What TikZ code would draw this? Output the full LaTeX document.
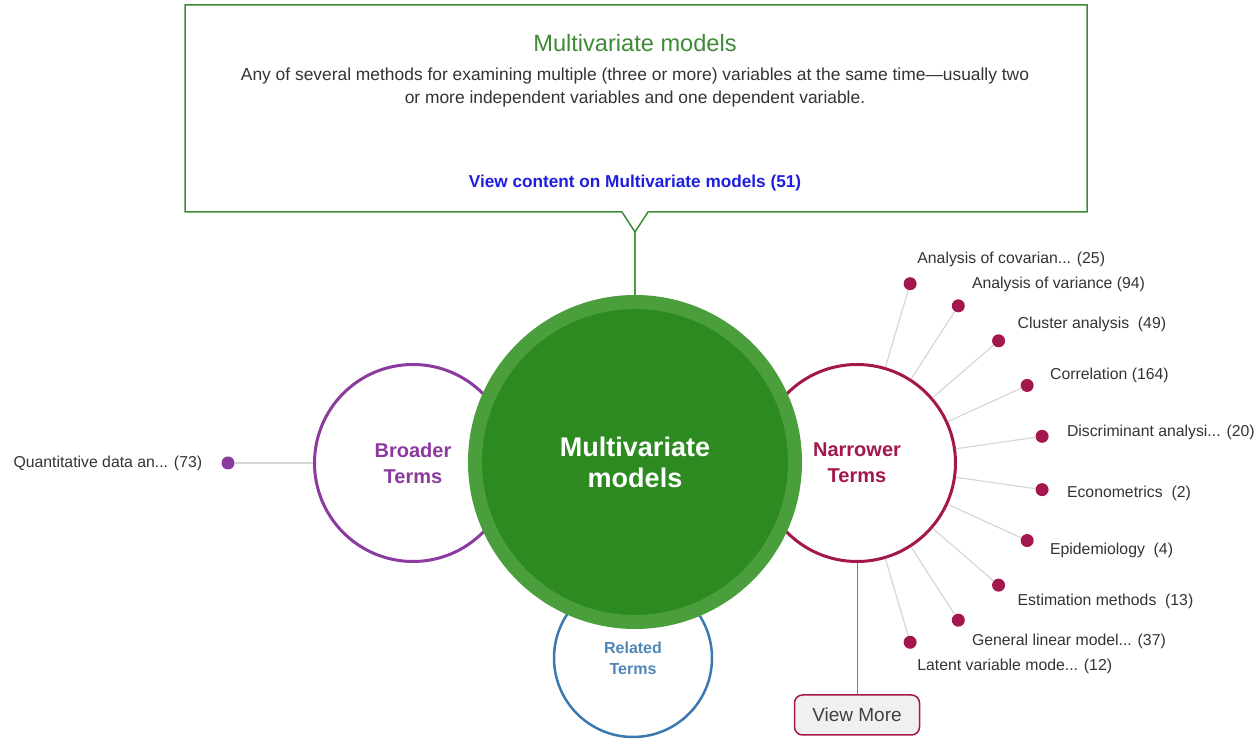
\documentclass[tikz,border=0pt]{standalone}
\usepackage{fontspec}
\setmainfont{Liberation Sans}
\usetikzlibrary{positioning}

\definecolor{boxgreen}{HTML}{3F8A35}
\definecolor{ringgreen}{HTML}{4B9E3C}
\definecolor{coregreen}{HTML}{2D8A20}
\definecolor{broadpurple}{HTML}{8B3A9E}
\definecolor{narrowred}{HTML}{A3174C}
\definecolor{relblue}{HTML}{3B78B0}
\definecolor{linkblue}{HTML}{1E1EE0}
\definecolor{spokegray}{HTML}{D6D6D6}

\begin{document}
\begin{tikzpicture}[x=1pt, y=1pt,
    term/.style={circle, draw, line width=3pt, fill=white, minimum size=197pt, align=center, font=\fontsize{20}{26}\selectfont\bfseries},
    dot/.style={circle, inner sep=0pt, minimum size=13pt},
    lbl/.style={inner sep=0pt, text=black!80, font=\fontsize{15.8}{18}\selectfont},
    spoke/.style={spokegray, line width=1.2pt}]
    \useasboundingbox (0,0) rectangle (1256,741);

    \coordinate (tip) at (635,509);
    \draw[boxgreen, line width=1.5pt, fill=white] (185,736) -- (1087,736) -- (1087,529) -- (648,529) -- (tip) -- (622,529) -- (185,529) -- cycle;
    \node[text=boxgreen, font=\fontsize{23.6}{28}\selectfont] (title) at (635,698) {Multivariate models};
    \node[align=center, text=black!80, font=\fontsize{17.4}{23}\selectfont] (desc) at (635,653) {Any of several methods for examining multiple (three or more) variables at the same time---usually two\\or more independent variables and one dependent variable.};
    \node[text=linkblue, font=\fontsize{17.2}{20}\selectfont\bfseries] (link) at (635,558) {View content on Multivariate models (51)};

    \node[term, draw=broadpurple, text=broadpurple] (bt) at (413,278) {Broader\\Terms};
    \node[term, draw=narrowred, text=narrowred] (nt) at (857,278) {Narrower\\Terms};
    \node[term, draw=relblue, text=relblue!90, line width=2.5pt, minimum size=158pt, font=\fontsize{16}{21}\selectfont\bfseries] (rt) at (633,83) {Related\\Terms};
    \node[circle, draw=ringgreen, fill=coregreen, line width=14pt, minimum size=320pt, align=center, text=white, font=\fontsize{27}{31}\selectfont\bfseries] (mm) at (635,279) {Multivariate\\models};

    \node[dot, fill=broadpurple] (qd) at (228,278) {};
    \node[lbl, left=19pt of qd] (ql) {Quantitative data an... (73)};

    \node[dot, fill=narrowred] (d1) at ([shift={(73.5:187)}]nt.center) {};
    \node[dot, fill=narrowred] (d2) at ([shift={(57.2:187)}]nt.center) {};
    \node[dot, fill=narrowred] (d3) at ([shift={(40.8:187)}]nt.center) {};
    \node[dot, fill=narrowred] (d4) at ([shift={(24.5:187)}]nt.center) {};
    \node[dot, fill=narrowred] (d5) at ([shift={(8.2:187)}]nt.center) {};
    \node[dot, fill=narrowred] (d6) at ([shift={(-8.2:187)}]nt.center) {};
    \node[dot, fill=narrowred] (d7) at ([shift={(-24.5:187)}]nt.center) {};
    \node[dot, fill=narrowred] (d8) at ([shift={(-40.8:187)}]nt.center) {};
    \node[dot, fill=narrowred] (d9) at ([shift={(-57.2:187)}]nt.center) {};
    \node[dot, fill=narrowred] (d10) at ([shift={(-73.5:187)}]nt.center) {};

    \node[lbl, anchor=west] (l1) at ([shift={(73.5:25)}]d1.center) {Analysis of covarian... (25)};
    \node[lbl, anchor=west] (l2) at ([shift={(57.2:25)}]d2.center) {Analysis of variance (94)};
    \node[lbl, anchor=west] (l3) at ([shift={(40.8:25)}]d3.center) {Cluster analysis\ \ (49)};
    \node[lbl, anchor=west] (l4) at ([shift={(24.5:25)}]d4.center) {Correlation (164)};
    \node[lbl, anchor=west] (l5) at ([shift={(8.2:25)}]d5.center) {Discriminant analysi... (20)};
    \node[lbl, anchor=west] (l6) at ([shift={(-8.2:25)}]d6.center) {Econometrics\ \ (2)};
    \node[lbl, anchor=west] (l7) at ([shift={(-24.5:25)}]d7.center) {Epidemiology\ \ (4)};
    \node[lbl, anchor=west] (l8) at ([shift={(-40.8:25)}]d8.center) {Estimation methods\ \ (13)};
    \node[lbl, anchor=west] (l9) at ([shift={(-57.2:25)}]d9.center) {General linear model... (37)};
    \node[lbl, anchor=west] (l10) at ([shift={(-73.5:25)}]d10.center) {Latent variable mode... (12)};

    \node[draw=narrowred, line width=1.5pt, fill=black!6, rounded corners=8pt, minimum width=125pt, minimum height=40pt, text=black!75, font=\fontsize{19}{22}\selectfont] (vm) at (857,26) {View More};

    \draw[ringgreen, line width=1.2pt] (tip) -- (mm);
    \draw[spokegray, line width=1.5pt] (qd) -- (bt);
    \draw[narrowred!70, line width=1pt] (nt) -- (vm);
    \draw[spoke] (nt) edge (d1) (nt) edge (d2) (nt) edge (d3) (nt) edge (d4) (nt) edge (d5)
        (nt) edge (d6) (nt) edge (d7) (nt) edge (d8) (nt) edge (d9) (nt) edge (d10);
\end{tikzpicture}
\end{document}
